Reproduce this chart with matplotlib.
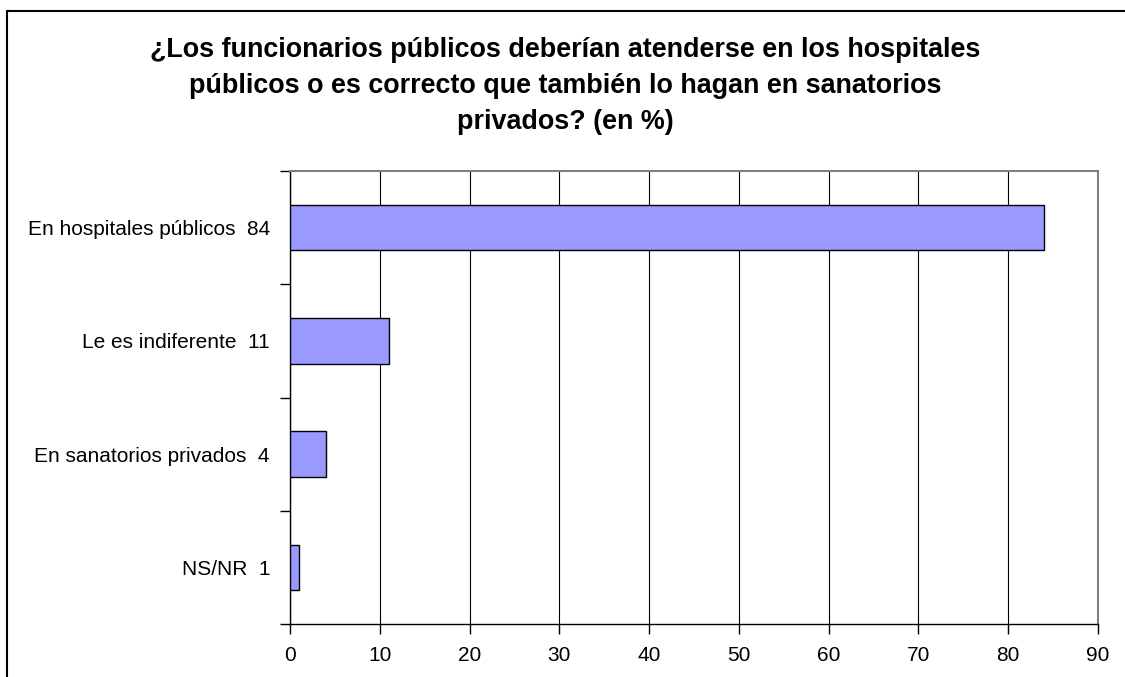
import matplotlib
matplotlib.use("Agg")
import matplotlib.pyplot as plt
from matplotlib.patches import Rectangle

categories = ["En hospitales públicos", "Le es indiferente", "En sanatorios privados", "NS/NR"]
values = [84, 11, 4, 1]
x_ticks = [0, 10, 20, 30, 40, 50, 60, 70, 80, 90]
title = ("¿Los funcionarios públicos deberían atenderse en los hospitales\n"
         "públicos o es correcto que también lo hagan en sanatorios\n"
         "privados? (en %)")

plt.rcParams['font.family'] = ['Liberation Sans', 'DejaVu Sans']

W, H = 1125, 677
fig = plt.figure(figsize=(W / 100, H / 100), dpi=100)

# outer chart frame (cut off on the right and bottom)
fig.patches.append(Rectangle((7 / W, -0.05), 1.2, 1 - 11 / H + 0.05,
                             transform=fig.transFigure, fill=False,
                             edgecolor="black", linewidth=1.5))

ax = fig.add_axes([290 / W, 1 - 624 / H, (1098 - 290) / W, (624 - 171) / H])

labels = [f"{c}  {v}" for c, v in zip(categories, values)]
pos = list(range(len(categories)))
ax.barh(pos, values, height=0.4, color="#9999FF", edgecolor="black",
        linewidth=1, zorder=3)

ax.set_xlim(0, 90)
ax.set_ylim(len(categories) - 0.5, -0.5)
ax.set_xticks(x_ticks)
ax.set_yticks(pos)
ax.set_yticklabels(labels)
ax.set_yticks([i + 0.5 for i in range(-1, len(categories))], minor=True)
ax.tick_params(axis="y", which="major", length=0, labelsize=15, pad=14.4)
ax.tick_params(axis="y", which="minor", length=7, width=1, direction="out")
ax.tick_params(axis="x", length=7, width=1, direction="out", labelsize=15, pad=9)
ax.xaxis.grid(True, color="black", linewidth=0.8, zorder=0)

for s in ["top", "right"]:
    ax.spines[s].set_color("#808080")
    ax.spines[s].set_linewidth(1.5)
for s in ["left", "bottom"]:
    ax.spines[s].set_color("black")
    ax.spines[s].set_linewidth(1)

fig.text(565 / W, 1 - 86 / H, title, ha="center", va="center",
         fontsize=19.4, fontweight="bold", linespacing=1.5)

fig.savefig("out.png", dpi=100)
